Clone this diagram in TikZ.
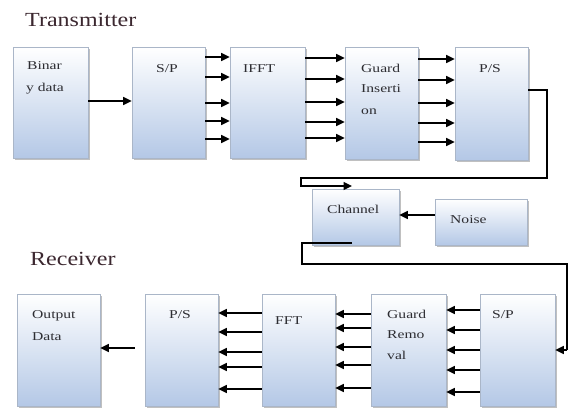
\documentclass[tikz,border=0pt]{standalone}
\usepackage{fontspec}
\setmainfont{Liberation Serif}[FakeStretch=1.3]
\newfontfamily\titlefont{Liberation Serif}[FakeStretch=1.2]
\usetikzlibrary{arrows.meta,shadows}
\definecolor{boxbot}{RGB}{180,200,230}
\definecolor{boxedge}{RGB}{170,182,200}
\definecolor{titlecol}{RGB}{60,40,48}
\definecolor{txtcol}{RGB}{45,45,50}
\begin{document}
\begin{tikzpicture}[x=1pt,y=-1pt,
  blk/.style={draw=boxedge, line width=0.7pt, top color=white, bottom color=boxbot,
    drop shadow={shadow xshift=1.6pt, shadow yshift=-1.6pt, opacity=0.35, fill=black!70},
    inner sep=0pt},
  lbl/.style={anchor=base west, inner sep=0pt, text=txtcol, font=\fontsize{12}{14}\selectfont},
  clbl/.style={anchor=base, inner sep=0pt, text=txtcol, font=\fontsize{12}{14}\selectfont},
  ttl/.style={anchor=base west, inner sep=0pt, text=titlecol, font=\titlefont\fontsize{20}{22}\selectfont},
  arr/.style={line width=1.5pt, -{Triangle[length=8.5pt,width=8pt]}},
  wire/.style={line width=1.3pt}]
\fill[white] (0,0) rectangle (569,410);
\useasboundingbox (0,0) rectangle (569,410);

% titles
\node[ttl] (ttx) at (25,26) {Transmitter};
\node[ttl] (trx) at (30,265) {Receiver};

% transmitter boxes
\node[blk, minimum width=75pt, minimum height=111pt] (bin) at (50.5,102.5) {};
\node[blk, minimum width=73pt, minimum height=111pt] (sp) at (168.5,102.5) {};
\node[blk, minimum width=75pt, minimum height=111pt] (ifft) at (267.5,102.5) {};
\node[blk, minimum width=73pt, minimum height=112pt] (gi) at (381.5,103) {};
\node[blk, minimum width=73pt, minimum height=113pt] (ps) at (491.5,103.5) {};

% channel and noise
\node[blk, minimum width=87pt, minimum height=56pt] (ch) at (355.5,217) {};
\node[blk, minimum width=92pt, minimum height=46pt] (noise) at (481,222) {};

% receiver boxes
\node[blk, minimum width=83pt, minimum height=112pt] (out) at (58.5,350) {};
\node[blk, minimum width=73pt, minimum height=112pt] (ps2) at (181.5,350) {};
\node[blk, minimum width=73pt, minimum height=112pt] (fft) at (298.5,350) {};
\node[blk, minimum width=75pt, minimum height=112pt] (gr) at (408.5,350) {};
\node[blk, minimum width=75pt, minimum height=112pt] (sp2) at (517.5,350) {};

% box texts
\node[lbl] (tbin1) at (27,69) {Binar};
\node[lbl] (tbin2) at (26,91) {y data};
\node[clbl] (tsp) at (167,72) {S/P};
\node[lbl] (tifft) at (243,72) {IFFT};
\node[lbl] (tgi1) at (361,72) {Guard};
\node[lbl] (tgi2) at (361,92) {Inserti};
\node[lbl] (tgi3) at (361,114) {on};
\node[clbl] (tps) at (490,72) {P/S};
\node[lbl] (tch) at (327,213) {Channel};
\node[lbl] (tno) at (450,223) {Noise};
\node[lbl] (tout1) at (32,318) {Output};
\node[lbl] (tout2) at (32,340) {Data};
\node[clbl] (tps2) at (180,318) {P/S};
\node[lbl] (tfft) at (275,324) {FFT};
\node[lbl] (tgr1) at (387,318) {Guard};
\node[lbl] (tgr2) at (387,338) {Remo};
\node[lbl] (tgr3) at (387,359) {val};
\node[clbl] (tsp2) at (503,318) {S/P};

% transmitter arrows
\draw[arr] (bin.east |- 0,101) -- (sp.west |- 0,101);
\foreach \yy in {57,77,103,121,139}
  \draw[arr] (sp.east |- 0,\yy) -- (ifft.west |- 0,\yy);
\foreach \yy in {58,79,102,122,138}
  \draw[arr] (ifft.east |- 0,\yy) -- (gi.west |- 0,\yy);
\foreach \yy in {59,80,103,123,142}
  \draw[arr] (gi.east |- 0,\yy) -- (ps.west |- 0,\yy);

% P/S to channel
\coordinate (ta) at (547,178);
\coordinate (tb) at (301,186);
\coordinate (tc) at (352,186);
\draw[arr] (ps.east |- 0,90) -| (ta) -| (tb) -- (tc);

% noise to channel
\draw[arr] (noise.west |- 0,215) -- (ch.east |- 0,215);

% channel to receiver
\coordinate (ca) at (352,243);
\coordinate (cb) at (302,264);
\coordinate (cc) at (567,350);
\draw[wire] (ca) -| (cb) -| (cc);
\draw[arr] (cc) -- (sp2.east |- 0,350);

% receiver arrows
\foreach \yy in {310,330,350,370,392}
  \draw[arr] (sp2.west |- 0,\yy) -- (gr.east |- 0,\yy);
\foreach \yy in {314,328,347,365,388}
  \draw[arr] (gr.west |- 0,\yy) -- (fft.east |- 0,\yy);
\foreach \yy in {313,332,352,367,389}
  \draw[arr] (fft.west |- 0,\yy) -- (ps2.east |- 0,\yy);
\draw[arr] ([xshift=-10pt]ps2.west |- 0,348) -- (out.east |- 0,348);
\end{tikzpicture}
\end{document}
